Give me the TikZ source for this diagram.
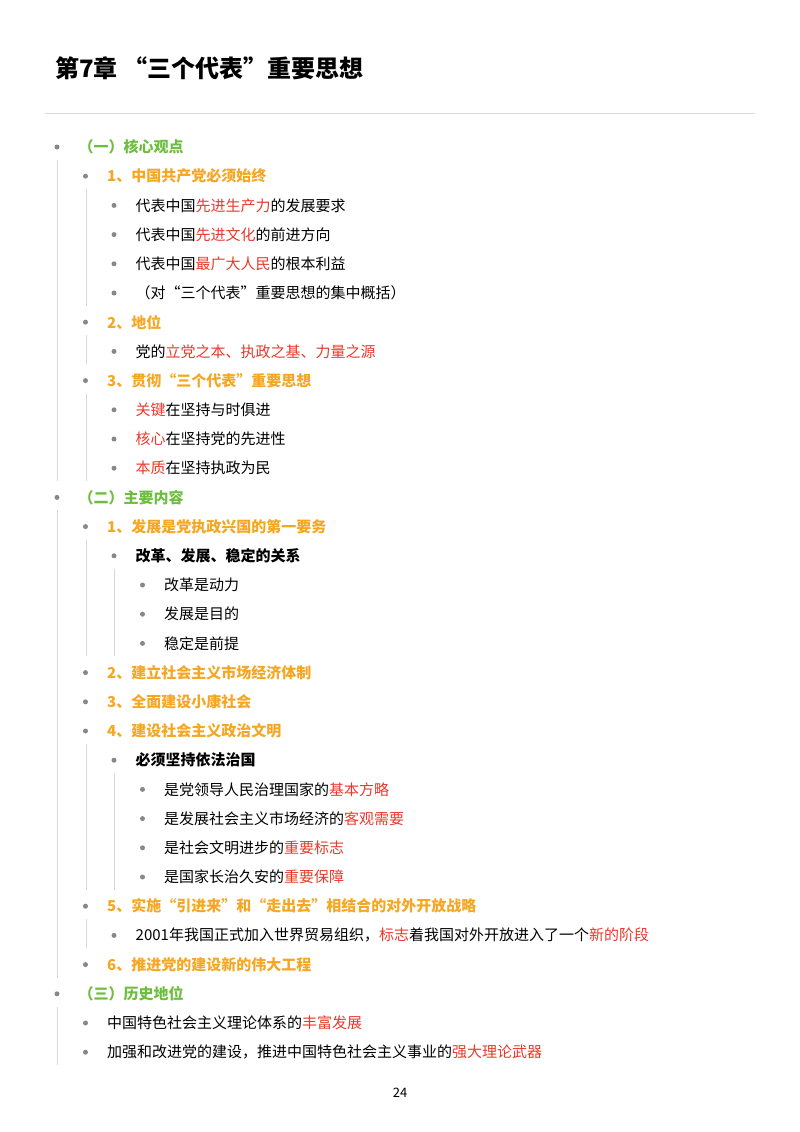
\documentclass[tikz,border=0pt]{standalone}
\usepackage{fontspec}
\setmainfont{Noto Sans CJK SC}
\definecolor{gr}{HTML}{6DBE3E}
\definecolor{og}{HTML}{F5A623}
\definecolor{rd}{HTML}{E8392C}
\definecolor{gl}{HTML}{D8D8D8}
\definecolor{bl}{HTML}{888888}
\newcommand{\R}[1]{\textcolor{rd}{#1}}
\tikzset{txt/.style={anchor=west,inner sep=0pt,font=\fontsize{15}{15}\selectfont},
 dot/.style={circle,fill=bl,inner sep=0pt,minimum size=5pt},
 guide/.style={gl,line width=1pt}}
\newcommand{\itm}[3]{% level, row, text
 \pgfmathsetmacro{\yy}{147+29.2*#2}
 \pgfmathsetmacro{\bx}{57+28.5*#1}
 \pgfmathsetmacro{\tx}{\bx+(#1==0?21:14)+(#1>0?0:0)}
 \node[dot] (b#2) at (\bx,\yy) {};
 \node[txt] (n#2) at (\bx+21.5,\yy) {#3};}
\newcommand{\gd}[3]{\draw[guide] (#1,{147+29.2*#2+13}) -- (#1,{147+29.2*#3+13});}
\begin{document}
\begin{tikzpicture}[x=1pt,y=-1pt]
\useasboundingbox (0,0) rectangle (800,1132);
\node[anchor=west,inner sep=0pt,font=\fontsize{24}{24}\selectfont\bfseries] (title) at (55,68) {第7章 “三个代表”重要思想};
\draw[gl] (45,113) -- (755,113);
\gd{57}{0}{11}\gd{86}{1}{5}\gd{86}{6}{7}\gd{86}{8}{11}
\gd{57}{12}{28}\gd{86}{13}{17}\gd{114}{14}{17}\gd{86}{20}{25}\gd{114}{21}{25}\gd{86}{26}{27}
\gd{57}{29}{31}
\itm{0}{0}{\textcolor{gr}{\bfseries （一）核心观点}}
\itm{1}{1}{\textcolor{og}{\bfseries 1、中国共产党必须始终}}
\itm{2}{2}{代表中国\R{先进生产力}的发展要求}
\itm{2}{3}{代表中国\R{先进文化}的前进方向}
\itm{2}{4}{代表中国\R{最广大人民}的根本利益}
\itm{2}{5}{（对“三个代表”重要思想的集中概括）}
\itm{1}{6}{\textcolor{og}{\bfseries 2、地位}}
\itm{2}{7}{党的\R{立党之本、执政之基、力量之源}}
\itm{1}{8}{\textcolor{og}{\bfseries 3、贯彻“三个代表”重要思想}}
\itm{2}{9}{\R{关键}在坚持与时俱进}
\itm{2}{10}{\R{核心}在坚持党的先进性}
\itm{2}{11}{\R{本质}在坚持执政为民}
\itm{0}{12}{\textcolor{gr}{\bfseries （二）主要内容}}
\itm{1}{13}{\textcolor{og}{\bfseries 1、发展是党执政兴国的第一要务}}
\itm{2}{14}{\bfseries 改革、发展、稳定的关系}
\itm{3}{15}{改革是动力}
\itm{3}{16}{发展是目的}
\itm{3}{17}{稳定是前提}
\itm{1}{18}{\textcolor{og}{\bfseries 2、建立社会主义市场经济体制}}
\itm{1}{19}{\textcolor{og}{\bfseries 3、全面建设小康社会}}
\itm{1}{20}{\textcolor{og}{\bfseries 4、建设社会主义政治文明}}
\itm{2}{21}{\bfseries 必须坚持依法治国}
\itm{3}{22}{是党领导人民治理国家的\R{基本方略}}
\itm{3}{23}{是发展社会主义市场经济的\R{客观需要}}
\itm{3}{24}{是社会文明进步的\R{重要标志}}
\itm{3}{25}{是国家长治久安的\R{重要保障}}
\itm{1}{26}{\textcolor{og}{\bfseries 5、实施“引进来”和“走出去”相结合的对外开放战略}}
\itm{2}{27}{2001年我国正式加入世界贸易组织，\R{标志}着我国对外开放进入了一个\R{新的阶段}}
\itm{1}{28}{\textcolor{og}{\bfseries 6、推进党的建设新的伟大工程}}
\itm{0}{29}{\textcolor{gr}{\bfseries （三）历史地位}}
\itm{1}{30}{中国特色社会主义理论体系的\R{丰富发展}}
\itm{1}{31}{加强和改进党的建设，推进中国特色社会主义事业的\R{强大理论武器}}
\node[font=\fontsize{13}{13}\selectfont,inner sep=0pt] (pg) at (400,1093) {24};
\end{tikzpicture}
\end{document}
